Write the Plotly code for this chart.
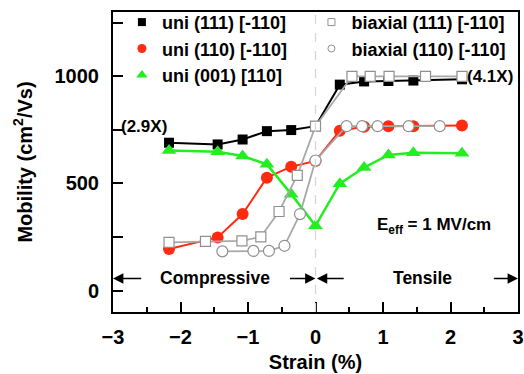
import plotly.graph_objects as go

# ---- data ----
uni_x = [-2.17, -1.45, -1.08, -0.72, -0.36, 0.0, 0.36, 0.72, 1.08, 1.45, 2.17]
uni111_y = [690, 682, 705, 744, 749, 767, 961, 976, 978, 980, 986]
uni110_y = [194, 248, 357, 527, 578, 605, 746, 765, 767, 767, 770]
uni001_y = [654, 648, 628, 589, 450, 302, 499, 574, 633, 643, 641]

bi111_x = [-2.17, -1.63, -1.09, -0.81, -0.54, -0.27, 0.0, 0.54, 0.81, 1.09, 1.63, 2.17]
bi111_y = [225, 230, 232, 251, 369, 538, 767, 1000, 1000, 1000, 1000, 1000]
bi110_x = [-1.38, -0.92, -0.69, -0.46, -0.23, 0.0, 0.46, 0.69, 0.92, 1.38, 1.84]
bi110_y = [183, 185, 185, 209, 357, 607, 767, 767, 767, 767, 767]

uni_names = ["uni (111) [-110]", "uni (110) [-110]", "uni (001) [110]"]
bi_names = ["biaxial (111) [-110]", "biaxial (110) [-110]"]

x_ticks = [-3, -2, -1, 0, 1, 2, 3]
y_tickvals = [0, 250, 500, 750, 1000, 1250]
y_ticktext = ["0", "", "500", "", "1000", ""]

FONT = "Liberation Sans, Arial, sans-serif"
RED = "#ff2a12"
GREEN = "#22ee22"
GRAY = "#a8a8a8"

fig = go.Figure()

# data traces (no legend)
fig.add_trace(go.Scatter(x=uni_x, y=uni111_y, mode="lines+markers", showlegend=False,
                         line=dict(color="black", width=2),
                         marker=dict(symbol="square", size=10, color="black")))
fig.add_trace(go.Scatter(x=uni_x, y=uni110_y, mode="lines+markers", showlegend=False,
                         line=dict(color=RED, width=2),
                         marker=dict(symbol="circle", size=12, color=RED)))
fig.add_trace(go.Scatter(x=uni_x, y=uni001_y, mode="lines+markers", showlegend=False,
                         line=dict(color=GREEN, width=2.5),
                         marker=dict(symbol="triangle-up", size=13, color=GREEN)))
fig.add_trace(go.Scatter(x=bi111_x, y=bi111_y, mode="lines+markers", showlegend=False,
                         line=dict(color=GRAY, width=1.8),
                         marker=dict(symbol="square", size=10, color="white",
                                     line=dict(color="#909090", width=1.2))))
fig.add_trace(go.Scatter(x=bi110_x, y=bi110_y, mode="lines+markers", showlegend=False,
                         line=dict(color=GRAY, width=1.8),
                         marker=dict(symbol="circle", size=11, color="white",
                                     line=dict(color="#909090", width=1.2))))

# legend-only entries (marker only), two legend columns
uni_leg = [
    dict(symbol="square", size=8, color="black"),
    dict(symbol="circle", size=9, color=RED),
    dict(symbol="triangle-up", size=10, color=GREEN),
]
bi_leg = [
    dict(symbol="square", size=7, color="white", line=dict(color="#909090", width=1)),
    dict(symbol="circle", size=7, color="white", line=dict(color="#909090", width=1)),
]
for nm, st in zip(uni_names, uni_leg):
    fig.add_trace(go.Scatter(x=[None], y=[None], mode="markers", name=nm,
                             marker=st, showlegend=True, legend="legend"))
for nm, st in zip(bi_names, bi_leg):
    fig.add_trace(go.Scatter(x=[None], y=[None], mode="markers", name=nm,
                             marker=st, showlegend=True, legend="legend2"))

# dashed zero line
fig.add_shape(type="line", x0=0, x1=0, y0=0, y1=1, xref="x", yref="paper",
              line=dict(color="#d6d6d6", width=1.3, dash="dash"), layer="above")

ann_font = dict(family=FONT, size=17, color="black", weight="bold")
fig.add_annotation(x=-2.54, y=767, text="(2.9X)", showarrow=False, font=ann_font)
fig.add_annotation(x=2.59, y=1000, text="(4.1X)", showarrow=False, font=ann_font)
fig.add_annotation(x=1.76, y=300, text="E<sub>eff</sub> = 1 MV/cm", showarrow=False, font=ann_font)
fig.add_annotation(x=-1.49, y=58, text="Compressive", showarrow=False,
                   font=dict(ann_font, size=17.5))
fig.add_annotation(x=1.585, y=58, text="Tensile", showarrow=False,
                   font=dict(ann_font, size=17.5))

arrow_y = 56
for head, tail in [(-3.0, -2.56), (0.0, -0.4), (0.02, 0.44), (3.0, 2.62)]:
    fig.add_annotation(x=head, y=arrow_y, ax=tail, ay=arrow_y, xref="x", yref="y",
                       axref="x", ayref="y", showarrow=True, arrowhead=2,
                       arrowsize=1.3, arrowwidth=1.6, arrowcolor="black", text="")

tick_font = dict(family=FONT, size=20, color="black", weight="bold")
fig.update_xaxes(range=[-3, 3], tickvals=x_ticks, ticks="inside", ticklen=10, tickwidth=1.5,
                 tickcolor="black", showline=True, linecolor="black", linewidth=2,
                 mirror=True, showgrid=False, zeroline=False, tickfont=tick_font,
                 ticklabelstandoff=6, automargin=False,
                 minor=dict(dtick=0.5, ticks="inside", ticklen=5, tickwidth=1.5,
                            tickcolor="black", showgrid=False),
                 title=dict(text="Strain (%)", font=tick_font, standoff=8))
fig.update_yaxes(range=[-100, 1300], tickvals=y_tickvals, ticktext=y_ticktext,
                 ticks="inside", ticklen=10, tickwidth=1.5, tickcolor="black",
                 showline=True, linecolor="black", linewidth=2, mirror=True,
                 showgrid=False, zeroline=False, tickfont=tick_font, ticklabelstandoff=8,
                 automargin=False,
                 title=dict(text="Mobility (cm<sup>2</sup>/Vs)", font=tick_font, standoff=17))

leg_font = dict(family=FONT, size=18, color="black", weight="bold")
fig.update_layout(
    width=524, height=374,
    margin=dict(l=113, r=6, t=12, b=62, autoexpand=False),
    plot_bgcolor="white", paper_bgcolor="white",
    legend=dict(x=0.022, y=1.027, xanchor="left", yanchor="top", orientation="v",
                bgcolor="rgba(0,0,0,0)", itemsizing="trace", tracegroupgap=0,
                font=leg_font),
    legend2=dict(x=0.49, y=1.027, xanchor="left", yanchor="top", orientation="v",
                 bgcolor="rgba(0,0,0,0)", itemsizing="trace", tracegroupgap=0,
                 font=leg_font),
)

fig.write_html("out.html", config={"displayModeBar": False})

# remove default page margin so the figure sits at the window origin
with open("out.html", "r", encoding="utf-8") as f:
    html = f.read()
html = html.replace("<body>", '<body style="margin:0;padding:0;">', 1)
with open("out.html", "w", encoding="utf-8") as f:
    f.write(html)
